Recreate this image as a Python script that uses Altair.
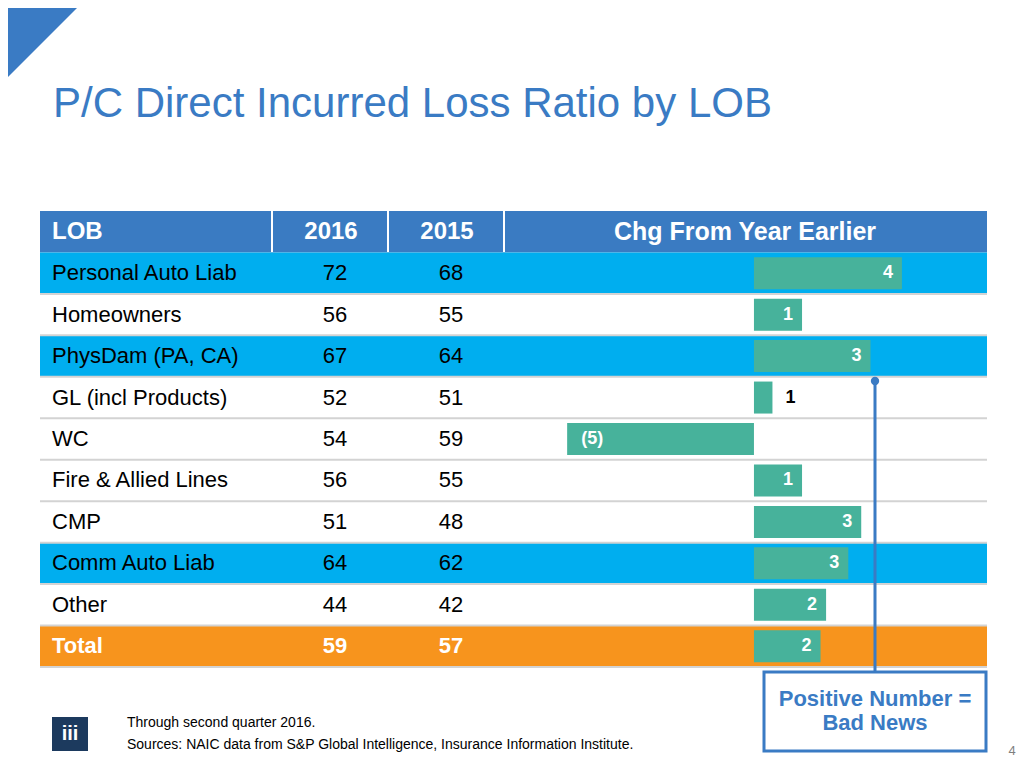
import altair as alt
import pandas as pd

# ---------------- data ----------------
lobs = ["Personal Auto Liab", "Homeowners", "PhysDam (PA, CA)", "GL (incl Products)", "WC",
        "Fire & Allied Lines", "CMP", "Comm Auto Liab", "Other", "Total"]
vals_2016 = [72, 56, 67, 52, 54, 56, 51, 64, 44, 59]
vals_2015 = [68, 55, 64, 51, 59, 55, 48, 62, 42, 57]
chg = [4.0, 1.3, 3.15, 0.5, -5.05, 1.3, 2.9, 2.55, 1.95, 1.8]
chg_labels = ["4", "1", "3", "1", "(5)", "1", "3", "3", "2", "2"]
header_labels = ["LOB", "2016", "2015", "Chg From Year Earlier"]
title_text = "P/C Direct Incurred Loss Ratio by LOB"
note_lines = ["Through second quarter 2016.",
              "Sources: NAIC data from S&P Global Intelligence, Insurance Information Institute."]
callout_lines = ["Positive Number =", "Bad News"]
page_no = "4"

# ---------------- styles ----------------
FONT = "Liberation Sans"
BLUE = "#3A7BC4"
HEAD = "#3A7BC2"
CYAN = "#00AEEF"
ORANGE = "#F7941D"
GREEN = "#47B29B"
GRID = "#D3D3D3"
HDR = "__header__"
cyan_rows = {"Personal Auto Liab", "PhysDam (PA, CA)", "Comm Auto Liab"}


def fill_for(r):
    if r == HDR:
        return HEAD
    if r == "Total":
        return ORANGE
    if r in cyan_rows:
        return CYAN
    return "#FFFFFF"


row_order = [HDR] + lobs
df = pd.DataFrame({"row": lobs, "v2016": vals_2016, "v2015": vals_2015, "chg": chg, "lab": chg_labels})
bg = pd.DataFrame({"row": row_order, "fill": [fill_for(r) for r in row_order]})
one = pd.DataFrame({"k": [0]})

YS = alt.Scale(domain=row_order, range=[203, 659], paddingInner=0, paddingOuter=0)
Y = alt.Y("row:N", scale=YS, axis=None)
XC = alt.X("chg:Q", scale=alt.Scale(domain=[-6.73, 6.30], range=[497, 979], nice=False, zero=False),
           axis=None)

# background triangle
tri = alt.Chart(one).mark_point(shape="M -1 -1 L 1 -1 L -1 1 Z", filled=True, size=85 * 85,
                                color=BLUE, opacity=1, strokeWidth=0).encode(
    x=alt.value(34.5), y=alt.value(34.5))

title = alt.Chart(pd.DataFrame({"t": [title_text]})).mark_text(
    align="left", baseline="alphabetic", fontSize=42, font=FONT, color=BLUE).encode(
    x=alt.value(45), y=alt.value(109), text="t:N")

rows_bg = alt.Chart(bg).mark_rect().encode(
    y=Y, x=alt.value(32), x2=alt.value(979), color=alt.Color("fill:N", scale=None))

sep = alt.Chart(df).mark_rule(color=GRID, strokeWidth=2).encode(
    y=alt.Y("row:N", bandPosition=1, scale=YS, axis=None),
    x=alt.value(32), x2=alt.value(979))

col_lines = alt.Chart(pd.DataFrame({"xx": [264, 380, 496]})).mark_rule(color="white", strokeWidth=2).encode(
    x=alt.X("xx:Q", scale=None), y=alt.value(203), y2=alt.value(244))

hdr_df = pd.DataFrame({"row": [HDR] * 4, "h": header_labels, "pos": [0, 1, 2, 3]})


def hdr(pos, xpos, align, size=24):
    return alt.Chart(hdr_df).transform_filter(f"datum.pos == {pos}").mark_text(
        align=align, baseline="middle", fontSize=size, fontWeight="bold", font=FONT, color="white").encode(
        y=Y, x=alt.value(xpos), text="h:N")


hdr_lob = hdr(0, 44, "left")
hdr_2016 = hdr(1, 323, "center")
hdr_2015 = hdr(2, 439, "center")
hdr_chg = hdr(3, 737, "center", 25)

body = alt.Chart(df).transform_filter("datum.row != 'Total'")
total = alt.Chart(df).transform_filter("datum.row == 'Total'")

body_lob = body.mark_text(align="left", baseline="middle", fontSize=22, font=FONT, color="black").encode(
    y=Y, x=alt.value(44), text="row:N")
body_16 = body.mark_text(align="center", baseline="middle", fontSize=22, font=FONT, color="black").encode(
    y=Y, x=alt.value(327), text="v2016:Q")
body_15 = body.mark_text(align="center", baseline="middle", fontSize=22, font=FONT, color="black").encode(
    y=Y, x=alt.value(443), text="v2015:Q")
tot_lob = total.mark_text(align="left", baseline="middle", fontSize=22, fontWeight="bold", font=FONT,
                          color="white").encode(y=Y, x=alt.value(44), text="row:N")
tot_16 = total.mark_text(align="center", baseline="middle", fontSize=22, fontWeight="bold", font=FONT,
                         color="white").encode(y=Y, x=alt.value(327), text="v2016:Q")
tot_15 = total.mark_text(align="center", baseline="middle", fontSize=22, fontWeight="bold", font=FONT,
                         color="white").encode(y=Y, x=alt.value(443), text="v2015:Q")

bars = alt.Chart(df).mark_bar(color=GREEN, height=32).encode(y=Y, x=XC)

lab_in = alt.Chart(df).transform_filter("datum.chg >= 0.8").mark_text(
    align="right", baseline="middle", dx=-9, fontSize=18, fontWeight="bold", font=FONT, color="white").encode(
    y=Y, x=XC, text="lab:N")
lab_out = alt.Chart(df).transform_filter("datum.chg >= 0 && datum.chg < 0.8").mark_text(
    align="left", baseline="middle", dx=13, fontSize=18, fontWeight="bold", font=FONT, color="black").encode(
    y=Y, x=XC, text="lab:N")
lab_neg = alt.Chart(df).transform_filter("datum.chg < 0").mark_text(
    align="left", baseline="middle", dx=14, fontSize=18, fontWeight="bold", font=FONT, color="white").encode(
    y=Y, x=XC, text="lab:N")

# callout
c_line = alt.Chart(one).mark_rule(color=BLUE, strokeWidth=3).encode(
    x=alt.value(867), y=alt.value(373), y2=alt.value(663))
c_dot = alt.Chart(one).mark_point(filled=True, size=70, color=BLUE, opacity=1).encode(
    x=alt.value(867), y=alt.value(373))
c_box = alt.Chart(one).mark_rect(fill="white", stroke=BLUE, strokeWidth=3).encode(
    x=alt.value(756), x2=alt.value(978), y=alt.value(664), y2=alt.value(743))
c_t1 = alt.Chart(pd.DataFrame({"t": [callout_lines[0]]})).mark_text(
    align="center", baseline="middle", fontSize=22, fontWeight="bold", font=FONT, color=BLUE).encode(
    x=alt.value(867), y=alt.value(691), text="t:N")
c_t2 = alt.Chart(pd.DataFrame({"t": [callout_lines[1]]})).mark_text(
    align="center", baseline="middle", fontSize=22, fontWeight="bold", font=FONT, color=BLUE).encode(
    x=alt.value(867), y=alt.value(715), text="t:N")

# footer
logo = alt.Chart(one).mark_rect(color="#1C3A5E").encode(
    x=alt.value(44), x2=alt.value(80), y=alt.value(709), y2=alt.value(743))
logo_t = alt.Chart(pd.DataFrame({"t": ["iii"]})).mark_text(
    align="center", baseline="middle", fontSize=20, fontWeight="bold", font=FONT, color="white").encode(
    x=alt.value(62), y=alt.value(726), text="t:N")
note1 = alt.Chart(pd.DataFrame({"t": [note_lines[0]]})).mark_text(
    align="left", baseline="alphabetic", fontSize=14, font=FONT, color="black").encode(
    x=alt.value(119), y=alt.value(719), text="t:N")
note2 = alt.Chart(pd.DataFrame({"t": [note_lines[1]]})).mark_text(
    align="left", baseline="alphabetic", fontSize=14, font=FONT, color="black").encode(
    x=alt.value(119), y=alt.value(741), text="t:N")
pno = alt.Chart(pd.DataFrame({"t": [page_no]})).mark_text(
    align="center", baseline="alphabetic", fontSize=13, font=FONT, color="#7F7F7F").encode(
    x=alt.value(1004), y=alt.value(747), text="t:N")

chart = alt.layer(
    tri, title, rows_bg, sep, col_lines,
    hdr_lob, hdr_2016, hdr_2015, hdr_chg,
    body_lob, body_16, body_15, tot_lob, tot_16, tot_15,
    bars, lab_in, lab_out, lab_neg,
    c_line, c_dot, c_box, c_t1, c_t2,
    logo, logo_t, note1, note2, pno,
).properties(
    width=1008, height=752, padding=0,
    autosize=alt.AutoSizeParams(type="none"),
    background="white",
).configure_view(stroke=None)

chart.save("out.html", embed_options={"renderer": "svg", "actions": False})
